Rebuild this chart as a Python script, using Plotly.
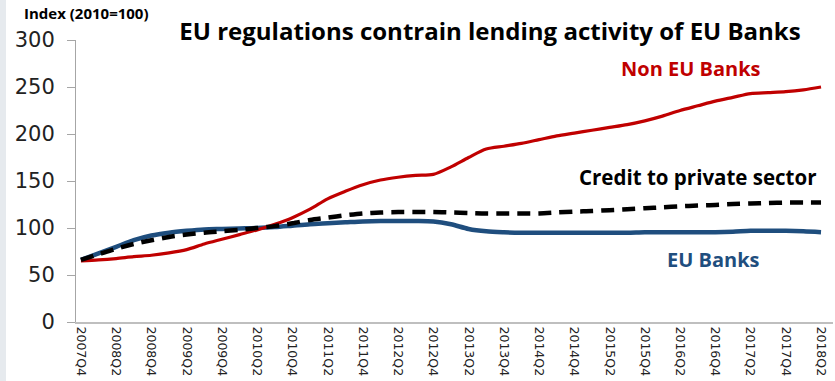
import plotly.graph_objects as go

quarters = []
for yr in range(2007, 2019):
    for q in range(1, 5):
        lbl = f"{yr}Q{q}"
        if "2007Q4" <= lbl <= "2018Q2":
            quarters.append(lbl)

non_eu_banks = [65, 66, 67.5, 69.5, 71, 73.5, 77, 83, 88, 93, 98, 104, 111, 120, 131,
                139, 146, 151, 154, 156, 157, 165, 175, 184, 187, 190, 194, 198, 201,
                204, 207, 210, 214, 219, 225, 230, 235, 239, 243, 244, 245, 247, 250]
eu_banks = [66, 73, 80, 87, 92, 95, 97, 98.5, 99, 99.5, 100, 101, 102.5, 104, 105, 106,
            107, 107.5, 107.5, 107.5, 107, 104, 99, 96.5, 95.5, 95, 95, 95, 95, 95, 95,
            95, 95.5, 95.5, 95.5, 95.5, 95.5, 96, 97, 97, 97, 96.5, 95.5]
credit_private = [66, 72, 78, 83, 87, 90.5, 93, 95, 96.5, 98, 100, 102, 105, 108.5, 111,
                  113.5, 115.5, 116.5, 117, 117, 117, 116.5, 116, 115.5, 115.5, 115.5,
                  115.5, 116.5, 117.5, 118, 119, 120, 121, 122, 123, 124, 124.5, 125.5,
                  126, 126.5, 127, 127, 127]

tick_labels = quarters[::2]
y_ticks = [0, 50, 100, 150, 200, 250, 300]

RED = "#C00000"
BLUE = "#1F4E7E"
BOLD = "Open Sans"

fig = go.Figure()
fig.add_trace(go.Scatter(x=quarters, y=eu_banks, mode="lines",
                         line=dict(color=BLUE, width=4.5, shape="spline", smoothing=0.8),
                         name="EU Banks"))
fig.add_trace(go.Scatter(x=quarters, y=non_eu_banks, mode="lines",
                         line=dict(color=RED, width=3.2, shape="spline", smoothing=0.8),
                         name="Non EU Banks"))
fig.add_trace(go.Scatter(x=quarters, y=credit_private, mode="lines",
                         line=dict(color="black", width=4.5, dash="13px,8px",
                                   shape="spline", smoothing=0.8),
                         name="Credit to private sector"))

W, H = 835, 381
ml, mr, mt, mb = 76, 2, 40, 59
pw = W - ml - mr

fig.update_layout(
    width=W, height=H,
    margin=dict(l=ml, r=mr, t=mt, b=mb),
    paper_bgcolor="white", plot_bgcolor="white",
    showlegend=False,
    title=dict(text="<b>EU regulations contrain lending activity of EU Banks</b>",
               x=490 / W, xanchor="center", y=1 - 32 / H, yanchor="middle",
               xref="container", yref="container",
               font=dict(family=BOLD, size=24, color="black")),
    xaxis=dict(type="category", range=[-0.28, 42.68],
               tickmode="array", tickvals=tick_labels, ticktext=tick_labels,
               tickangle=90, tickfont=dict(family="DejaVu Sans", size=12.5, color="#222"),
               showgrid=False, zeroline=False, showline=True,
               linecolor="#BFBFBF", linewidth=2, ticks=""),
    yaxis=dict(range=[0, 300], tickvals=y_ticks,
               tickfont=dict(family="DejaVu Sans", size=21, color="#222"),
               showgrid=False, zeroline=False, showline=True,
               linecolor="#A6A6A6", linewidth=1,
               ticks="outside", ticklen=8, tickcolor="#A6A6A6",
               ticklabelstandoff=8),
    shapes=[dict(type="rect", xref="paper", yref="paper",
                 x0=-ml / pw, x1=(6 - ml) / pw, y0=-mb / (H - mt - mb), y1=1 + mt / (H - mt - mb),
                 fillcolor="#E6EAEE", line=dict(width=0), layer="below")],
    annotations=[
        dict(text="<b>Index (2010=100)</b>", xref="paper", yref="paper",
             x=(22 - ml) / pw, xanchor="left", y=(322 - 13) / 282, yanchor="middle",
             showarrow=False, font=dict(family=BOLD, size=15, color="black")),
        dict(text="<b>Non EU Banks</b>", xref="x", yref="y", x=34.6, y=270,
             showarrow=False, font=dict(family=BOLD, size=20, color=RED)),
        dict(text="<b>Credit to private sector</b>", xref="x", yref="y", x=35.0, y=154,
             showarrow=False, font=dict(family=BOLD, size=20.5, color="black")),
        dict(text="<b>EU Banks</b>", xref="x", yref="y", x=35.9, y=67,
             showarrow=False, font=dict(family=BOLD, size=20, color=BLUE)),
    ],
)

fig.write_html("out.html")
